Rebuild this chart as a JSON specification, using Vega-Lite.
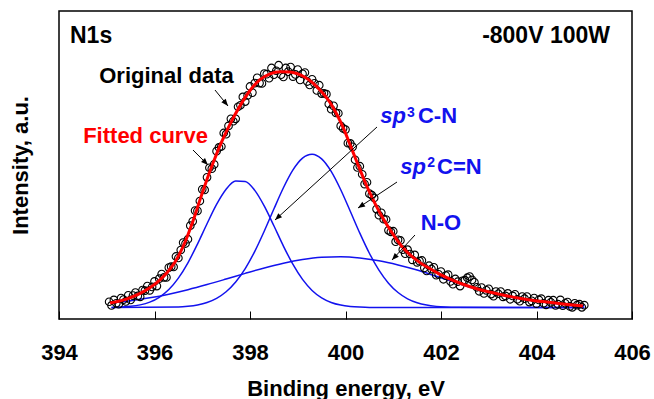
{
"$schema": "https://vega.github.io/schema/vega-lite/v6.json",
"width": 573, "height": 308,
"autosize": {"type": "none"},
"padding": {"left": 59, "top": 11, "right": 22, "bottom": 80},
"config": {"view": {"stroke": "black", "strokeWidth": 1.5}, "font": "Liberation Sans"},
"datasets": {
"components": [
{"c":"A","x":395.1,"y":3.77},{"c":"A","x":395.3,"y":3.88},{"c":"A","x":395.5,"y":4.11},{"c":"A","x":395.7,"y":4.59},{"c":"A","x":395.9,"y":5.49},{"c":"A","x":396.1,"y":7.06},{"c":"A","x":396.3,"y":9.57},{"c":"A","x":396.5,"y":13.28},{"c":"A","x":396.7,"y":18.26},{"c":"A","x":396.9,"y":24.33},{"c":"A","x":397.1,"y":30.94},{"c":"A","x":397.3,"y":37.22},{"c":"A","x":397.5,"y":42.15},{"c":"A","x":397.7,"y":44.81},{"c":"A","x":397.9,"y":44.66},{"c":"A","x":398.1,"y":41.75},{"c":"A","x":398.3,"y":36.63},{"c":"A","x":398.5,"y":30.27},{"c":"A","x":398.7,"y":23.68},{"c":"A","x":398.9,"y":17.71},{"c":"A","x":399.1,"y":12.85},{"c":"A","x":399.3,"y":9.27},{"c":"A","x":399.5,"y":6.86},{"c":"A","x":399.7,"y":5.37},{"c":"A","x":399.9,"y":4.52},{"c":"A","x":400.1,"y":4.08},{"c":"A","x":400.3,"y":3.86},{"c":"A","x":400.5,"y":3.76},{"c":"A","x":405.0,"y":3.7},
{"c":"B","x":395.1,"y":3.7},{"c":"B","x":396.5,"y":3.9},{"c":"B","x":396.7,"y":4.13},{"c":"B","x":396.9,"y":4.57},{"c":"B","x":397.1,"y":5.36},{"c":"B","x":397.3,"y":6.71},{"c":"B","x":397.5,"y":8.84},{"c":"B","x":397.7,"y":12.0},{"c":"B","x":397.9,"y":16.37},{"c":"B","x":398.1,"y":21.96},{"c":"B","x":398.3,"y":28.57},{"c":"B","x":398.5,"y":35.7},{"c":"B","x":398.7,"y":42.61},{"c":"B","x":398.9,"y":48.41},{"c":"B","x":399.1,"y":52.24},{"c":"B","x":399.3,"y":53.5},{"c":"B","x":399.5,"y":51.97},{"c":"B","x":399.7,"y":47.91},{"c":"B","x":399.9,"y":41.96},{"c":"B","x":400.1,"y":34.98},{"c":"B","x":400.3,"y":27.87},{"c":"B","x":400.5,"y":21.34},{"c":"B","x":400.7,"y":15.87},{"c":"B","x":400.9,"y":11.63},{"c":"B","x":401.1,"y":8.59},{"c":"B","x":401.3,"y":6.54},{"c":"B","x":401.5,"y":5.26},{"c":"B","x":401.7,"y":4.51},{"c":"B","x":401.9,"y":4.1},{"c":"B","x":402.1,"y":3.88},{"c":"B","x":402.3,"y":3.78},{"c":"B","x":405.0,"y":3.7},
{"c":"C","x":395.1,"y":5.21},{"c":"C","x":395.5,"y":5.93},{"c":"C","x":395.9,"y":6.88},{"c":"C","x":396.3,"y":8.07},{"c":"C","x":396.7,"y":9.51},{"c":"C","x":397.1,"y":11.17},{"c":"C","x":397.5,"y":12.97},{"c":"C","x":397.9,"y":14.82},{"c":"C","x":398.3,"y":16.58},{"c":"C","x":398.7,"y":18.12},{"c":"C","x":399.1,"y":19.31},{"c":"C","x":399.5,"y":20.02},{"c":"C","x":399.9,"y":20.19},{"c":"C","x":400.3,"y":19.8},{"c":"C","x":400.7,"y":18.89},{"c":"C","x":401.1,"y":17.54},{"c":"C","x":401.5,"y":15.89},{"c":"C","x":401.9,"y":13.9},{"c":"C","x":402.3,"y":11.9},{"c":"C","x":402.7,"y":9.9},{"c":"C","x":403.1,"y":8.3},{"c":"C","x":403.5,"y":7.0},{"c":"C","x":403.9,"y":6.0},{"c":"C","x":404.3,"y":5.2},{"c":"C","x":404.7,"y":4.6},{"c":"C","x":405.0,"y":4.3}
],
"fit": [
{"x":395.07,"y":5.2},{"x":395.38,"y":6.3},{"x":395.7,"y":8.3},{"x":395.91,"y":10.2},{"x":396.12,"y":12.8},{"x":396.26,"y":15.0},{"x":396.43,"y":18.5},{"x":396.53,"y":21.3},{"x":396.64,"y":25.0},{"x":396.74,"y":29.0},{"x":396.85,"y":33.8},{"x":396.95,"y":38.6},{"x":397.06,"y":43.6},{"x":397.16,"y":48.0},{"x":397.27,"y":52.4},{"x":397.37,"y":56.2},{"x":397.48,"y":60.0},{"x":397.58,"y":63.2},{"x":397.79,"y":69.2},{"x":398.0,"y":74.2},{"x":398.21,"y":77.7},{"x":398.42,"y":79.6},{"x":398.63,"y":80.3},{"x":398.84,"y":80.2},{"x":398.98,"y":79.7},{"x":399.15,"y":78.5},{"x":399.32,"y":76.6},{"x":399.47,"y":74.3},{"x":399.68,"y":70.2},{"x":399.82,"y":66.4},{"x":399.95,"y":62.2},{"x":400.09,"y":56.8},{"x":400.22,"y":51.7},{"x":400.35,"y":46.7},{"x":400.47,"y":42.3},{"x":400.58,"y":38.7},{"x":400.72,"y":34.5},{"x":400.87,"y":30.5},{"x":401.04,"y":26.5},{"x":401.2,"y":23.2},{"x":401.39,"y":20.3},{"x":401.56,"y":18.3},{"x":401.77,"y":16.3},{"x":401.98,"y":14.5},{"x":402.4,"y":11.6},{"x":402.82,"y":9.5},{"x":403.24,"y":8.0},{"x":403.51,"y":7.1},{"x":403.86,"y":6.2},{"x":404.22,"y":5.5},{"x":404.6,"y":4.8},{"x":404.97,"y":4.2}
],
"raw": [
{"x":395.05,"y":5.6},{"x":395.1,"y":4.4},{"x":395.15,"y":6.2},{"x":395.2,"y":5.1},{"x":395.25,"y":4.8},{"x":395.3,"y":6.8},{"x":395.35,"y":6.3},{"x":395.4,"y":5.7},{"x":395.45,"y":7.7},{"x":395.5,"y":6.2},
{"x":395.55,"y":7.6},{"x":395.6,"y":8.6},{"x":395.65,"y":7.5},{"x":395.7,"y":7.2},{"x":395.75,"y":9.4},{"x":395.8,"y":9.2},{"x":395.85,"y":10.7},{"x":395.9,"y":9.3},{"x":395.95,"y":10.4},{"x":396.0,"y":12.2},
{"x":396.05,"y":10.7},{"x":396.1,"y":13.1},{"x":396.15,"y":14.6},{"x":396.2,"y":13.5},{"x":396.25,"y":13.5},{"x":396.3,"y":16.7},{"x":396.35,"y":17.0},{"x":396.4,"y":16.9},{"x":396.45,"y":20.3},{"x":396.5,"y":19.8},
{"x":396.55,"y":22.4},{"x":396.6,"y":24.8},{"x":396.65,"y":24.5},{"x":396.7,"y":25.9},{"x":396.75,"y":30.3},{"x":396.8,"y":31.7},{"x":396.85,"y":35.2},{"x":396.9,"y":35.1},{"x":396.95,"y":38.3},{"x":397.0,"y":42.1},
{"x":397.05,"y":41.9},{"x":397.1,"y":46.0},{"x":397.15,"y":49.1},{"x":397.2,"y":48.8},{"x":397.25,"y":50.2},{"x":397.3,"y":54.5},{"x":397.35,"y":55.7},{"x":397.4,"y":56.0},{"x":397.45,"y":60.4},{"x":397.5,"y":60.0},
{"x":397.55,"y":62.7},{"x":397.6,"y":65.0},{"x":397.65,"y":64.2},{"x":397.7,"y":65.0},{"x":397.75,"y":68.9},{"x":397.8,"y":69.4},{"x":397.85,"y":72.1},{"x":397.9,"y":70.6},{"x":397.95,"y":72.6},{"x":398.0,"y":75.5},
{"x":398.05,"y":73.5},{"x":398.1,"y":76.6},{"x":398.15,"y":78.3},{"x":398.2,"y":76.6},{"x":398.25,"y":76.5},{"x":398.3,"y":79.7},{"x":398.35,"y":79.5},{"x":398.4,"y":78.2},{"x":398.45,"y":81.5},{"x":398.5,"y":79.3},
{"x":398.55,"y":80.6},{"x":398.6,"y":82.4},{"x":398.65,"y":79.3},{"x":398.7,"y":78.6},{"x":398.75,"y":81.5},{"x":398.8,"y":80.3},{"x":398.85,"y":81.8},{"x":398.9,"y":78.7},{"x":398.95,"y":79.4},{"x":399.0,"y":81.0},
{"x":399.05,"y":77.6},{"x":399.1,"y":79.6},{"x":399.15,"y":80.0},{"x":399.2,"y":77.1},{"x":399.25,"y":76.0},{"x":399.3,"y":77.8},{"x":399.35,"y":76.5},{"x":399.4,"y":74.2},{"x":399.45,"y":75.9},{"x":399.5,"y":73.2},
{"x":399.55,"y":73.3},{"x":399.6,"y":73.0},{"x":399.65,"y":69.8},{"x":399.7,"y":68.1},{"x":399.75,"y":69.2},{"x":399.8,"y":66.9},{"x":399.85,"y":66.8},{"x":399.9,"y":62.7},{"x":399.95,"y":61.9},{"x":400.0,"y":61.5},
{"x":400.05,"y":57.1},{"x":400.1,"y":57.0},{"x":400.15,"y":55.9},{"x":400.2,"y":51.7},{"x":400.25,"y":49.2},{"x":400.3,"y":49.6},{"x":400.35,"y":47.0},{"x":400.4,"y":43.8},{"x":400.45,"y":44.4},{"x":400.5,"y":40.7},
{"x":400.55,"y":40.2},{"x":400.6,"y":39.3},{"x":400.65,"y":35.7},{"x":400.7,"y":33.7},{"x":400.75,"y":34.5},{"x":400.8,"y":32.4},{"x":400.85,"y":32.3},{"x":400.9,"y":28.8},{"x":400.95,"y":28.3},{"x":401.0,"y":28.5},
{"x":401.05,"y":25.1},{"x":401.1,"y":25.7},{"x":401.15,"y":25.5},{"x":401.2,"y":22.5},{"x":401.25,"y":21.2},{"x":401.3,"y":22.5},{"x":401.35,"y":21.1},{"x":401.4,"y":19.2},{"x":401.45,"y":20.8},{"x":401.5,"y":18.4},
{"x":401.55,"y":18.8},{"x":401.6,"y":19.0},{"x":401.65,"y":16.6},{"x":401.7,"y":15.6},{"x":401.75,"y":17.3},{"x":401.8,"y":16.2},{"x":401.85,"y":16.8},{"x":401.9,"y":14.2},{"x":401.95,"y":14.5},{"x":402.0,"y":15.4},
{"x":402.05,"y":12.9},{"x":402.1,"y":14.1},{"x":402.15,"y":14.4},{"x":402.2,"y":12.2},{"x":402.25,"y":11.3},{"x":402.3,"y":13.0},{"x":402.35,"y":12.1},{"x":402.4,"y":10.7},{"x":402.45,"y":12.4},{"x":402.5,"y":12.6},
{"x":402.55,"y":13.4},{"x":402.6,"y":13.8},{"x":402.65,"y":12.7},{"x":402.7,"y":11.9},{"x":402.75,"y":10.3},{"x":402.8,"y":9.0},{"x":402.85,"y":10.2},{"x":402.9,"y":8.3},{"x":402.95,"y":9.3},{"x":403.0,"y":9.8},
{"x":403.05,"y":8.1},{"x":403.1,"y":7.4},{"x":403.15,"y":8.9},{"x":403.2,"y":8.2},{"x":403.25,"y":8.9},{"x":403.3,"y":7.2},{"x":403.35,"y":7.5},{"x":403.4,"y":8.3},{"x":403.45,"y":6.4},{"x":403.5,"y":7.5},
{"x":403.55,"y":8.0},{"x":403.6,"y":6.4},{"x":403.65,"y":5.8},{"x":403.7,"y":7.3},{"x":403.75,"y":6.6},{"x":403.8,"y":7.3},{"x":403.85,"y":5.5},{"x":403.9,"y":5.9},{"x":403.95,"y":6.8},{"x":404.0,"y":5.0},
{"x":404.05,"y":6.2},{"x":404.1,"y":6.6},{"x":404.15,"y":5.1},{"x":404.2,"y":4.6},{"x":404.25,"y":6.1},{"x":404.3,"y":5.4},{"x":404.35,"y":6.1},{"x":404.4,"y":4.4},{"x":404.45,"y":4.8},{"x":404.5,"y":6.2},
{"x":404.55,"y":4.3},{"x":404.6,"y":5.1},{"x":404.65,"y":5.5},{"x":404.7,"y":4.1},{"x":404.75,"y":3.8},{"x":404.8,"y":5.1},{"x":404.85,"y":4.5},{"x":404.9,"y":4.8},{"x":404.95,"y":3.8},{"x":405.0,"y":4.5}
],
"arrows": [
{"id":"od","x":397.539,"y":69.16,"xs":397.267,"ys":74.35},
{"id":"fc","x":397.12,"y":50.0,"xs":396.806,"ys":54.87},
{"id":"sp3","x":398.524,"y":32.14,"xs":400.66,"ys":62.34},
{"id":"sp2","x":400.262,"y":36.04,"xs":401.079,"ys":44.48},
{"id":"no","x":400.974,"y":19.16,"xs":401.455,"ys":27.27}
]
},
"encoding": {
"x": {"field": "x", "type": "quantitative", "scale": {"domain": [394, 406], "nice": false, "zero": false},
 "axis": {"title": "Binding energy, eV", "values": [394,396,398,400,402,404,406], "format": "d", "grid": false, "domain": false,
  "labelFont": "Liberation Sans", "labelFontWeight": "bold", "labelFontSize": 22, "labelColor": "black",
  "labelFlush": false, "labelOverlap": false, "labelBound": false, "labelPadding": 31,
  "tickSize": -8, "tickColor": "black", "tickWidth": 1,
  "titleFont": "Liberation Sans", "titleFontSize": 22, "titleFontWeight": "bold", "titleColor": "black", "titlePadding": 15}},
"y": {"field": "y", "type": "quantitative", "scale": {"domain": [0, 100], "nice": false},
 "axis": {"title": "Intensity, a.u.", "labels": false, "ticks": false, "domain": false, "grid": false,
  "titleFont": "Liberation Sans", "titleFontSize": 22, "titleFontWeight": "bold", "titleColor": "black", "titlePadding": 27}}
},
"layer": [
{"data": {"name": "components"}, "mark": {"type": "line", "color": "#1212ee", "strokeWidth": 1.5, "interpolate": "monotone"}, "encoding": {"detail": {"field": "c"}}},
{"data": {"name": "raw"}, "mark": {"type": "point", "shape": "circle", "filled": false, "stroke": "black", "strokeWidth": 1.1, "size": 58, "opacity": 1}},
{"data": {"name": "fit"}, "mark": {"type": "line", "color": "#ff0000", "strokeWidth": 3, "interpolate": "monotone"}},
{"data": {"name": "arrows"}, "mark": {"type": "rule", "color": "black", "strokeWidth": 1}, "encoding": {"x2": {"field": "xs"}, "y2": {"field": "ys"}}},
{"data": {"name": "arrows"}, "transform": [{"filter": "datum.id == 'od'"}], "mark": {"type": "point", "shape": "M0,0L-1,-0.4L-1,0.4Z", "filled": true, "color": "black", "opacity": 1, "size": 196, "angle": 50.9}},
{"data": {"name": "arrows"}, "transform": [{"filter": "datum.id == 'fc'"}], "mark": {"type": "point", "shape": "M0,0L-1,-0.4L-1,0.4Z", "filled": true, "color": "black", "opacity": 1, "size": 196, "angle": 45}},
{"data": {"name": "arrows"}, "transform": [{"filter": "datum.id == 'sp3'"}], "mark": {"type": "point", "shape": "M0,0L-1,-0.4L-1,0.4Z", "filled": true, "color": "black", "opacity": 1, "size": 196, "angle": 137.6}},
{"data": {"name": "arrows"}, "transform": [{"filter": "datum.id == 'sp2'"}], "mark": {"type": "point", "shape": "M0,0L-1,-0.4L-1,0.4Z", "filled": true, "color": "black", "opacity": 1, "size": 196, "angle": 146.3}},
{"data": {"name": "arrows"}, "transform": [{"filter": "datum.id == 'no'"}], "mark": {"type": "point", "shape": "M0,0L-1,-0.4L-1,0.4Z", "filled": true, "color": "black", "opacity": 1, "size": 196, "angle": 132.6}},
{"data": {"values": [{"x": 394.23, "y": 89.5, "t": "N1s"}]}, "mark": {"type": "text", "align": "left", "baseline": "alphabetic", "font": "Liberation Sans", "fontWeight": "bold", "fontSize": 23, "color": "black"}, "encoding": {"text": {"field": "t"}}},
{"data": {"values": [{"x": 405.539, "y": 89.5, "t": "-800V 100W"}]}, "mark": {"type": "text", "align": "right", "baseline": "alphabetic", "font": "Liberation Sans", "fontWeight": "bold", "fontSize": 23, "color": "black"}, "encoding": {"text": {"field": "t"}}},
{"data": {"values": [{"x": 396.251, "y": 76.5, "t": "Original data"}]}, "mark": {"type": "text", "align": "center", "baseline": "alphabetic", "font": "Liberation Sans", "fontWeight": "bold", "fontSize": 22, "color": "black"}, "encoding": {"text": {"field": "t"}}},
{"data": {"values": [{"x": 395.812, "y": 57.0, "t": "Fitted curve"}]}, "mark": {"type": "text", "align": "center", "baseline": "alphabetic", "font": "Liberation Sans", "fontWeight": "bold", "fontSize": 22, "color": "#ff0000"}, "encoding": {"text": {"field": "t"}}},
{"data": {"values": [{"x": 401.267, "y": 63.5, "t": "sp"}, {"x": 401.686, "y": 47.1, "t": "sp"}]}, "mark": {"type": "text", "align": "right", "baseline": "alphabetic", "font": "Liberation Sans", "fontWeight": "bold", "fontStyle": "italic", "fontSize": 22, "color": "#1212ee"}, "encoding": {"text": {"field": "t"}}},
{"data": {"values": [{"x": 401.29, "y": 65.6, "t": "3"}, {"x": 401.71, "y": 49.35, "t": "2"}]}, "mark": {"type": "text", "align": "left", "baseline": "alphabetic", "font": "Liberation Sans", "fontWeight": "bold", "fontSize": 14, "color": "#1212ee"}, "encoding": {"text": {"field": "t"}}},
{"data": {"values": [{"x": 401.518, "y": 63.5, "t": "C-N"}, {"x": 401.916, "y": 47.1, "t": "C=N"}]}, "mark": {"type": "text", "align": "left", "baseline": "alphabetic", "font": "Liberation Sans", "fontWeight": "bold", "fontSize": 22, "color": "#1212ee"}, "encoding": {"text": {"field": "t"}}},
{"data": {"values": [{"x": 402.0, "y": 28.9, "t": "N-O"}]}, "mark": {"type": "text", "align": "center", "baseline": "alphabetic", "font": "Liberation Sans", "fontWeight": "bold", "fontSize": 22, "color": "#1212ee"}, "encoding": {"text": {"field": "t"}}}
]
}
